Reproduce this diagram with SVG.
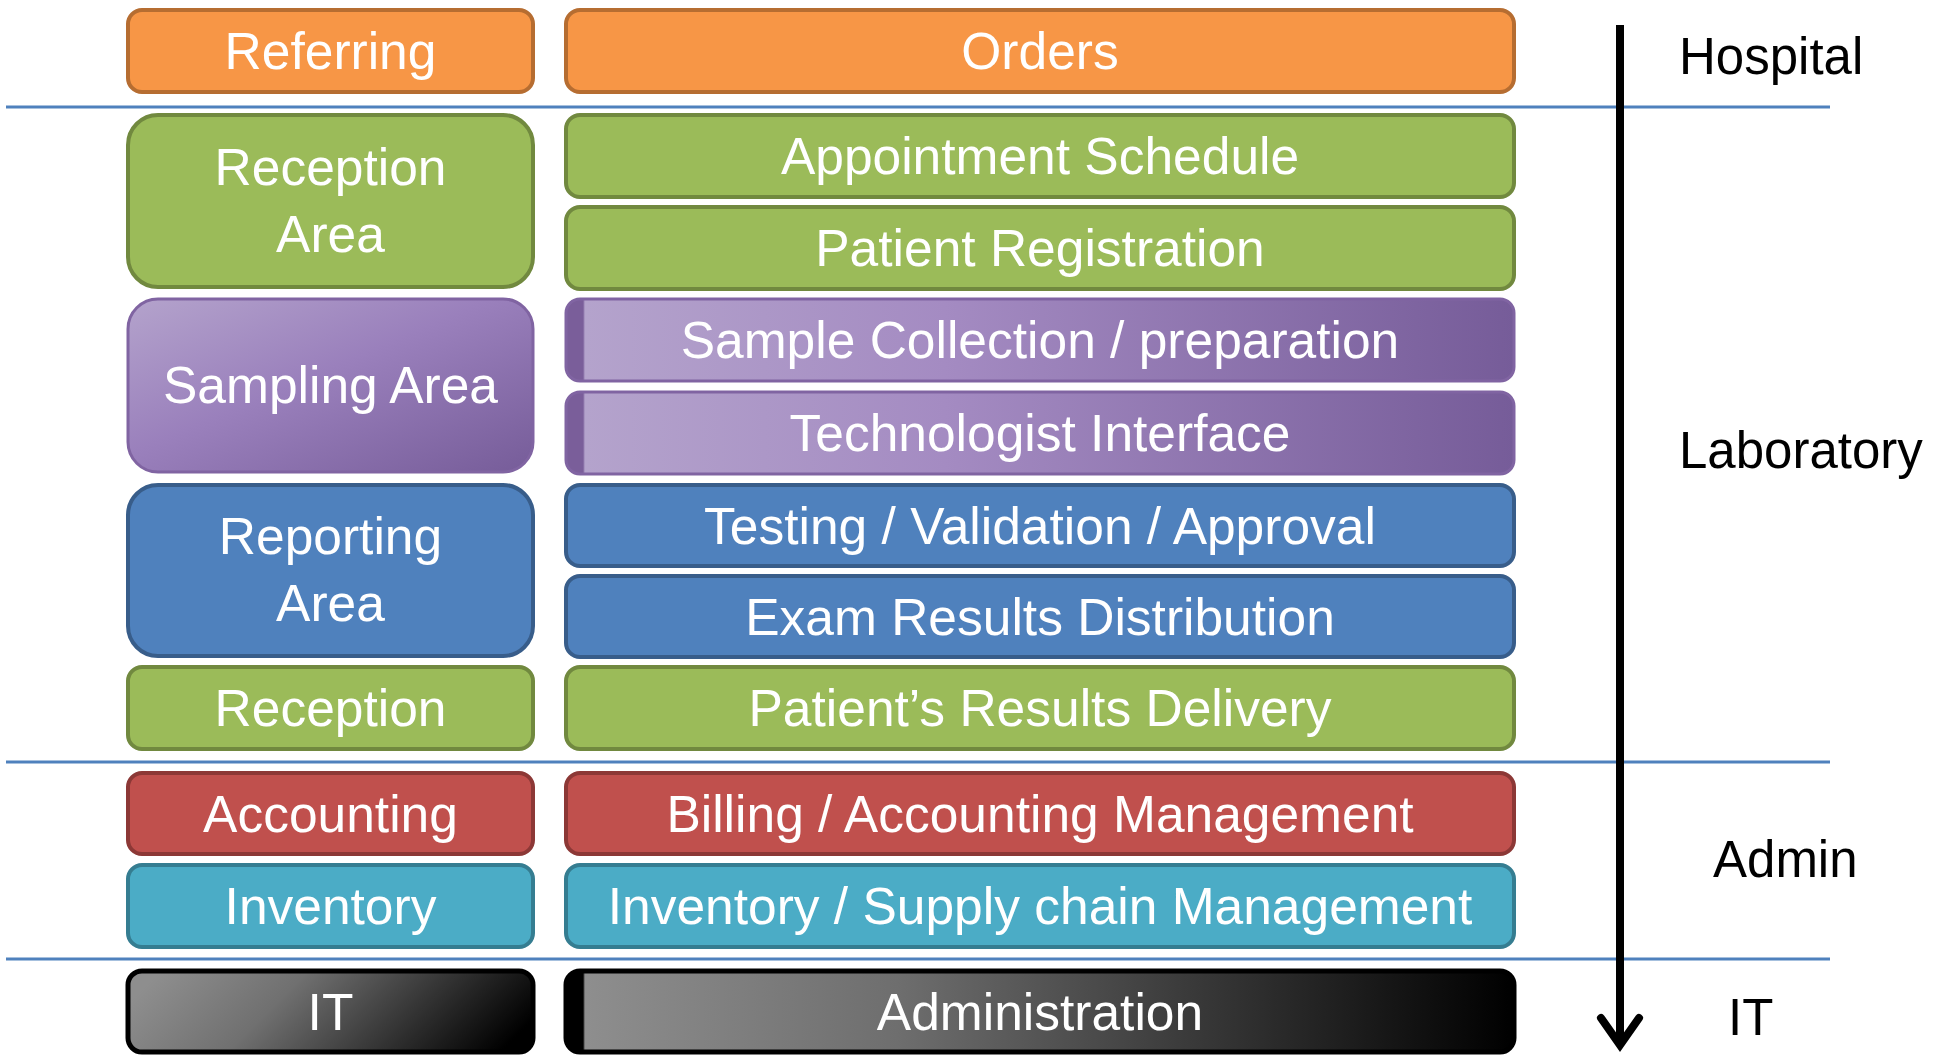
<svg xmlns="http://www.w3.org/2000/svg" width="1933" height="1056" viewBox="0 0 1933 1056">
<style>
.t{font-family:"Liberation Sans",Arial,sans-serif;font-size:51.5px;fill:#fff;text-anchor:middle}
.lbl{font-family:"Liberation Sans",Arial,sans-serif;font-size:51px;fill:#000}
.or{fill:#F79646;stroke:#B66D31;stroke-width:4}
.gr{fill:#9BBB59;stroke:#71893F;stroke-width:4}
.bl{fill:#4F81BD;stroke:#385D8A;stroke-width:4}
.rd{fill:#C0504D;stroke:#8C3836;stroke-width:4}
.cy{fill:#4BACC6;stroke:#357D91;stroke-width:4}
.pu{fill:url(#puDiag);stroke:#8064A2;stroke-width:3}
.pu2{fill:url(#puBar);stroke:#8064A2;stroke-width:3}
.bk{fill:url(#bkDiag);stroke:#000;stroke-width:5}
.bk2{fill:url(#bkBar);stroke:#000;stroke-width:5}
.sep{stroke:#4F81BD;stroke-width:3;fill:none}
</style>
<defs>
<linearGradient id="puDiag" x1="0" y1="0" x2="1" y2="1">
<stop offset="0" stop-color="#B4A3CC"/>
<stop offset="0.45" stop-color="#9A80BC"/>
<stop offset="1" stop-color="#765C99"/>
</linearGradient>
<linearGradient id="puBar" x1="0" y1="0" x2="1" y2="0">
<stop offset="0" stop-color="#7A5E9A"/>
<stop offset="0.018" stop-color="#7A5E9A"/>
<stop offset="0.02" stop-color="#B4A3CC"/>
<stop offset="0.4" stop-color="#A48BC2"/>
<stop offset="1" stop-color="#765C99"/>
</linearGradient>
<linearGradient id="bkDiag" x1="0" y1="0.4" x2="1" y2="0.6">
<stop offset="0" stop-color="#8E8E8E"/>
<stop offset="0.35" stop-color="#707070"/>
<stop offset="1" stop-color="#000"/>
</linearGradient>
<linearGradient id="bkBar" x1="0" y1="0" x2="1" y2="0">
<stop offset="0" stop-color="#000"/>
<stop offset="0.018" stop-color="#000"/>
<stop offset="0.02" stop-color="#8E8E8E"/>
<stop offset="0.35" stop-color="#6E6E6E"/>
<stop offset="1" stop-color="#000"/>
</linearGradient>
</defs>

<g id="connectors">
<line class="sep" x1="6" y1="107" x2="1830" y2="107"/>
<line class="sep" x1="6" y1="762" x2="1830" y2="762"/>
<line class="sep" x1="6" y1="959" x2="1830" y2="959"/>
<line x1="1620" y1="25" x2="1620" y2="1044" stroke="#000" stroke-width="8"/>
<polyline points="1601,1018 1620,1045 1639,1018" fill="none" stroke="#000" stroke-width="8" stroke-linecap="round" stroke-linejoin="miter"/>
</g>

<g id="referring"><rect class="or" x="128" y="10" width="405" height="82" rx="14"/><text class="t" x="330.5" y="69">Referring</text></g>
<g id="orders"><rect class="or" x="566" y="10" width="948" height="82" rx="14"/><text class="t" x="1040" y="69">Orders</text></g>

<g id="reception-area"><rect class="gr" x="128" y="115" width="405" height="172" rx="30"/><text class="t" x="330.5" y="185">Reception</text><text class="t" x="330.5" y="252">Area</text></g>
<g id="appointment"><rect class="gr" x="566" y="115" width="948" height="82" rx="14"/><text class="t" x="1040" y="174">Appointment Schedule</text></g>
<g id="registration"><rect class="gr" x="566" y="207" width="948" height="82" rx="14"/><text class="t" x="1040" y="266">Patient Registration</text></g>

<g id="sampling-area"><rect class="pu" x="128" y="299" width="405" height="173" rx="30"/><text class="t" x="330.5" y="403">Sampling Area</text></g>
<g id="sample-collection"><rect class="pu2" x="566" y="299" width="948" height="82" rx="14"/><text class="t" x="1040" y="358">Sample Collection / preparation</text></g>
<g id="technologist"><rect class="pu2" x="566" y="392" width="948" height="82" rx="14"/><text class="t" x="1040" y="451">Technologist Interface</text></g>

<g id="reporting-area"><rect class="bl" x="128" y="485" width="405" height="171" rx="30"/><text class="t" x="330.5" y="554">Reporting</text><text class="t" x="330.5" y="621">Area</text></g>
<g id="testing"><rect class="bl" x="566" y="485" width="948" height="81" rx="14"/><text class="t" x="1040" y="544">Testing / Validation / Approval</text></g>
<g id="exam-results"><rect class="bl" x="566" y="576" width="948" height="81" rx="14"/><text class="t" x="1040" y="635">Exam Results Distribution</text></g>

<g id="reception"><rect class="gr" x="128" y="667" width="405" height="82" rx="14"/><text class="t" x="330.5" y="726">Reception</text></g>
<g id="results-delivery"><rect class="gr" x="566" y="667" width="948" height="82" rx="14"/><text class="t" x="1040" y="726">Patient’s Results Delivery</text></g>

<g id="accounting"><rect class="rd" x="128" y="773" width="405" height="81" rx="14"/><text class="t" x="330.5" y="832">Accounting</text></g>
<g id="billing"><rect class="rd" x="566" y="773" width="948" height="81" rx="14"/><text class="t" x="1040" y="832">Billing / Accounting Management</text></g>

<g id="inventory"><rect class="cy" x="128" y="865" width="405" height="82" rx="14"/><text class="t" x="330.5" y="924">Inventory</text></g>
<g id="supply-chain"><rect class="cy" x="566" y="865" width="948" height="82" rx="14"/><text class="t" x="1040" y="924">Inventory / Supply chain Management</text></g>

<g id="it"><rect class="bk" x="128" y="971" width="405" height="81" rx="14"/><text class="t" x="330.5" y="1030">IT</text></g>
<g id="administration"><rect class="bk2" x="566" y="971" width="948" height="81" rx="14"/><text class="t" x="1040" y="1030">Administration</text></g>

<g id="labels">
<text class="lbl" x="1679" y="74">Hospital</text>
<text class="lbl" x="1679" y="468">Laboratory</text>
<text class="lbl" x="1713" y="877">Admin</text>
<text class="lbl" x="1728" y="1035">IT</text>
</g>
</svg>
